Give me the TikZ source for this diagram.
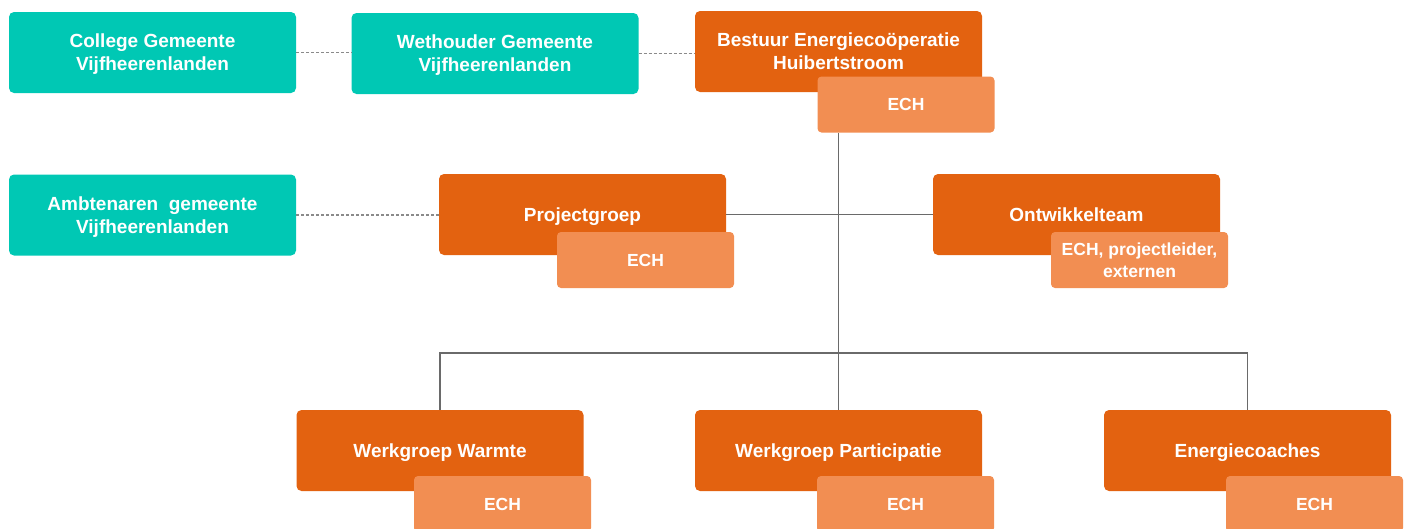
\documentclass[tikz,border=0pt]{standalone}
\usepackage{fontspec}
\setmainfont{Liberation Sans}
\definecolor{teal1}{HTML}{00C8B4}
\definecolor{orangeD}{HTML}{E36210}
\definecolor{orangeL}{HTML}{F28E52}
\definecolor{lineG}{HTML}{6A6A6A}
\definecolor{dashG}{HTML}{8A8A8A}
\newcommand\boxtext[1]{\raisebox{-2pt}[\height][\depth]{\begin{tabular}{@{}c@{}}#1\end{tabular}}}
\tikzset{
  box/.style={rectangle, rounded corners=5pt, inner sep=0pt, text=white,
    font=\fontsize{19}{23}\selectfont\bfseries},
  tealbox/.style={box, fill=teal1, minimum width=287pt, minimum height=81pt},
  mainbox/.style={box, fill=orangeD, minimum width=287pt, minimum height=81pt},
  echbox/.style={box, fill=orangeL, rounded corners=4pt, minimum width=177pt, minimum height=56pt,
    font=\fontsize{17.5}{22}\selectfont\bfseries},
  solidline/.style={draw=lineG, line width=1.1pt},
  dashline/.style={draw=dashG, line width=1.1pt, dash pattern=on 3pt off 2pt},
}
\begin{document}
\begin{tikzpicture}[x=1pt, y=-1pt]
\useasboundingbox (0,0) rectangle (1409,528);
\clip (0,0) rectangle (1409,528);
% top row
\node[tealbox] (college) at (152.5,52.5) {\boxtext{College Gemeente\\Vijfheerenlanden}};
\node[tealbox] (wethouder) at (495,53.5) {\boxtext{Wethouder Gemeente\\Vijfheerenlanden}};
\node[mainbox] (bestuur) at (838.5,51.5) {\boxtext{Bestuur Energiecoöperatie\\Huibertstroom}};
\node[echbox] (bestuurech) at (906,104.5) {\boxtext{ECH}};
% middle row
\node[tealbox] (ambt) at (152.5,215) {\boxtext{Ambtenaren\ \ gemeente\\Vijfheerenlanden}};
\node[mainbox] (project) at (582.5,214.5) {\boxtext{Projectgroep}};
\node[echbox] (projectech) at (645.5,260) {\boxtext{ECH}};
\node[mainbox] (ontw) at (1076.5,214.5) {\boxtext{Ontwikkelteam}};
\node[echbox] (ontwech) at (1139.5,260) {\boxtext{ECH, projectleider,\\externen}};
% bottom row
\node[mainbox] (warmte) at (440,450.5) {\boxtext{Werkgroep Warmte}};
\node[echbox] (warmteech) at (502.5,504) {\boxtext{ECH}};
\node[mainbox] (partic) at (838.5,450.5) {\boxtext{Werkgroep Participatie}};
\node[echbox] (particech) at (905.5,504) {\boxtext{ECH}};
\node[mainbox] (coaches) at (1247.5,450.5) {\boxtext{Energiecoaches}};
\node[echbox] (coachesech) at (1314.5,504) {\boxtext{ECH}};
% connectors
\coordinate (hub) at (838.5,353);
\draw[dashline] (college.east) -- (college.east -| wethouder.west);
\draw[dashline] (wethouder.east) -- (wethouder.east -| bestuur.west);
\draw[dashline] (ambt.east) -- (ambt.east -| project.west);
\draw[solidline] (bestuurech.south -| bestuur) -- (partic.north);
\draw[solidline] (project.east) -- (ontw.west);
\draw[solidline] (warmte.north) -- (warmte.north |- hub) -- (coaches.north |- hub) -- (coaches.north);
\end{tikzpicture}
\end{document}
